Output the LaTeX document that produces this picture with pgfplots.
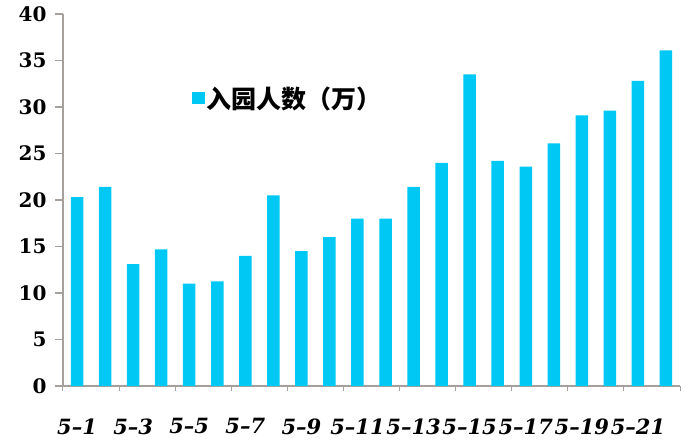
\documentclass[border=0pt]{standalone}
\usepackage{pgfplots}
\pgfplotsset{compat=1.18}
\usepackage{fontspec}
\setmainfont{DejaVu Serif}
\newfontfamily\cjk{Noto Sans CJK SC}
\definecolor{barcyan}{RGB}{0,200,245}
\definecolor{axgray}{RGB}{165,160,155}
\begin{document}
\begin{tikzpicture}
\useasboundingbox (-63pt,-58pt) rectangle (630pt,386pt);
\begin{axis}[
  at={(0pt,0pt)}, anchor=south west,
  scale only axis,
  width=617pt, height=372pt,
  xmin=0.5, xmax=22.5,
  ymin=0, ymax=40,
  axis x line*=bottom,
  axis y line*=left,
  axis line style={axgray, line width=1.3pt},
  ytick={0,5,...,40},
  xtick={1,3,...,21},
  xticklabels={5–1,5–3,5–5,5–7,5–9,5–11,5–13,5–15,5–17,5–19,5–21},
  minor xtick={0.5,2.5,...,22.5},
  major x tick style={draw=none},
  minor x tick style={draw=axgray, line width=1pt},
  minor tick length=5pt,
  y tick style={axgray, line width=1.1pt},
  major tick length=8pt,
  tick align=outside,
  /pgf/number format/assume math mode=true,
  yticklabel style={font=\fontsize{20}{23}\selectfont\bfseries, xshift=-5pt},
  xticklabel style={font=\fontsize{21}{24}\selectfont\bfseries\itshape, yshift=-21pt},
  legend style={draw=none, fill=none, at={(rel axis cs:0.208,0.774)}, anchor=west, font=\cjk\fontsize{25}{28}\selectfont\bfseries, legend cell align=left, inner sep=0pt},
  legend image code/.code={\fill[barcyan] (0pt,-6pt) rectangle (13pt,6pt);},
  clip=false,
]
\addplot[ybar, bar width=12.5pt, fill=barcyan, draw=none] coordinates {
(1,20.3) (2,21.4) (3,13.1) (4,14.7) (5,11.0) (6,11.25) (7,14.0) (8,20.5)
(9,14.5) (10,16.0) (11,18.0) (12,18.0) (13,21.4) (14,24.0) (15,33.5)
(16,24.2) (17,23.6) (18,26.1) (19,29.1) (20,29.6) (21,32.8) (22,36.1)
};
\addlegendentry{入园人数（万）}
\end{axis}
\end{tikzpicture}
\end{document}
